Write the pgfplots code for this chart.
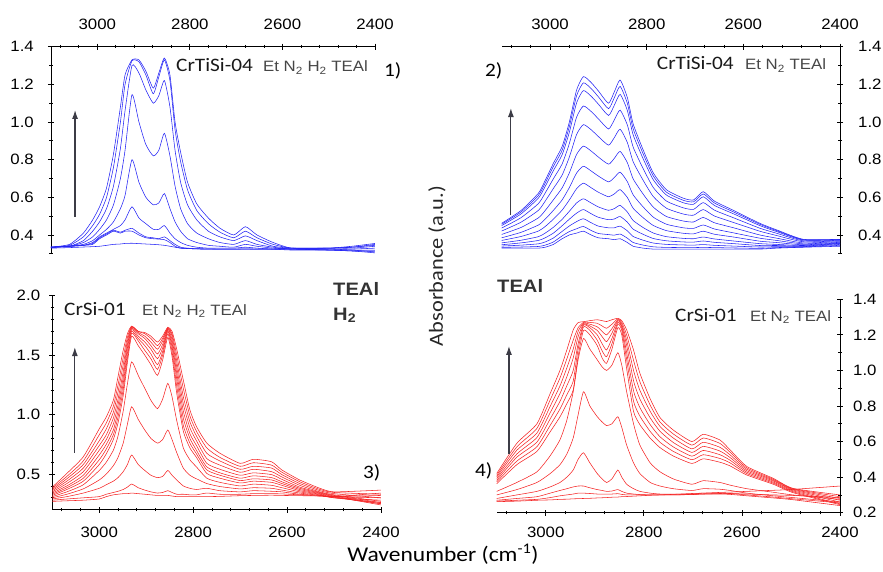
\documentclass[border=0pt]{standalone}
\usepackage{fontspec}
\setmainfont{Carlito}[FakeStretch=1.12]
\newfontfamily\arialf{Liberation Sans}[FakeStretch=1.12]
\usepackage{pgfplots}
\pgfplotsset{compat=1.18}
\usepackage{pgfplotstable}
\usetikzlibrary{arrows.meta}
\definecolor{bl}{RGB}{35,35,245}
\definecolor{rd}{RGB}{245,35,35}
\definecolor{arr}{RGB}{60,60,70}
\definecolor{txtg}{RGB}{70,70,70}

% Panel 1: CrTiSi-04 Et N2 H2 TEAl
\pgfplotstableread{
x C1 C2 C3 C4 C5 C6 C7 C8 C9
3100 .335 .335 .335 .335 .335 .335 .335 .335 .33
3060 .35 .345 .34 .34 .34 .34 .34 .34 .333
3030 .41 .39 .37 .36 .35 .345 .345 .345 .336
3010 .48 .45 .42 .39 .37 .36 .355 .35 .338
2995 .55 .51 .47 .43 .40 .39 .385 .38 .34
2980 .65 .60 .54 .48 .43 .41 .405 .40 .345
2965 .83 .76 .66 .56 .47 .43 .425 .42 .35
2950 1.08 1.00 .86 .70 .54 .45 .415 .41 .352
2940 1.25 1.20 1.06 .85 .61 .48 .425 .42 .355
2925 1.33 1.325 1.30 1.145 .80 .55 .435 .42 .356
2910 1.33 1.32 1.26 1.00 .68 .49 .41 .40 .354
2895 1.27 1.25 1.17 .88 .60 .46 .39 .385 .352
2879 1.18 1.15 1.10 .82 .56 .43 .385 .38 .35
2867 1.26 1.24 1.14 .85 .57 .43 .38 .378 .348
2855 1.34 1.33 1.22 .94 .62 .45 .39 .375 .345
2843 1.25 1.22 1.08 .82 .54 .41 .37 .36 .34
2832 1.00 .96 .85 .66 .47 .38 .35 .34 .335
2820 .84 .79 .68 .54 .42 .36 .335 .33 .33
2805 .68 .64 .56 .46 .38 .345 .33 .328 .328
2785 .565 .53 .48 .41 .36 .335 .327 .326 .326
2760 .49 .46 .42 .38 .345 .33 .326 .325 .325
2735 .436 .415 .39 .36 .34 .33 .325 .325 .325
2705 .40 .385 .37 .35 .335 .33 .325 .325 .325
2680 .444 .42 .395 .37 .35 .335 .326 .325 .325
2655 .40 .385 .37 .35 .34 .33 .325 .325 .325
2620 .36 .35 .34 .335 .33 .325 .325 .325 .325
2580 .33 .33 .33 .325 .325 .32 .325 .33 .325
2500 .33 .33 .33 .325 .32 .32 .325 .33 .32
2450 .34 .335 .33 .325 .32 .315 .32 .335 .315
2400 .355 .345 .34 .33 .32 .315 .31 .35 .305
}\tabA

% Panel 2: CrTiSi-04 Et N2 TEAl
\pgfplotstableread{
x a b c d e f g h i j k l m
3100 .462 .457 .450 .437 .421 .403 .385 .371 .358 .348 .341 .334 .33
3060 .53 .522 .512 .492 .468 .440 .414 .392 .372 .358 .346 .336 .33
3024 .622 .610 .596 .567 .531 .491 .453 .421 .391 .371 .353 .339 .33
3010 .69 .676 .658 .623 .580 .530 .484 .445 .410 .385 .363 .346 .335
2993 .781 .764 .742 .699 .647 .587 .531 .484 .441 .410 .384 .363 .35
2975 .87 .850 .826 .777 .718 .650 .586 .532 .483 .449 .419 .395 .38
2960 1.00 .976 .946 .886 .814 .730 .652 .586 .526 .484 .448 .418 .40
2945 1.17 1.140 1.102 1.026 .934 .828 .729 .646 .570 .516 .471 .433 .41
2931 1.241 1.208 1.167 1.085 .986 .872 .765 .675 .592 .535 .486 .445 .42
2915 1.21 1.178 1.137 1.056 .959 .846 .740 .651 .570 .513 .465 .424 .40
2900 1.165 1.134 1.095 1.017 .923 .814 .713 .627 .549 .494 .447 .408 .385
2879 1.10 1.071 1.035 .963 .877 .776 .682 .603 .531 .481 .438 .402 .38
2867 1.16 1.129 1.089 1.011 .917 .807 .705 .618 .540 .485 .438 .399 .375
2855 1.223 1.189 1.147 1.063 .962 .844 .734 .641 .557 .498 .447 .405 .38
2840 1.13 1.099 1.061 .984 .891 .784 .683 .599 .522 .468 .422 .383 .36
2828 .99 .964 .932 .867 .789 .698 .613 .542 .477 .431 .392 .360 .34
2807 .85 .829 .803 .751 .689 .616 .548 .491 .439 .403 .372 .346 .33
2786 .728 .712 .692 .651 .603 .547 .494 .450 .410 .381 .357 .337 .325
2759 .64 .627 .612 .580 .542 .498 .457 .423 .391 .369 .350 .334 .325
2724 .595 .584 .571 .544 .511 .474 .438 .409 .382 .363 .347 .333 .325
2703 .586 .576 .563 .536 .505 .469 .435 .406 .380 .362 .346 .333 .325
2683 .63 .618 .603 .572 .535 .493 .453 .420 .389 .368 .349 .334 .325
2660 .58 .570 .557 .532 .501 .465 .432 .404 .379 .361 .345 .333 .325
2620 .53 .522 .512 .491 .466 .438 .411 .389 .368 .354 .341 .331 .325
2566 .462 .457 .450 .436 .420 .400 .383 .367 .354 .344 .336 .329 .325
2531 .427 .423 .418 .409 .397 .383 .371 .360 .350 .344 .338 .333 .33
2476 .377 .375 .373 .369 .364 .358 .353 .348 .344 .341 .338 .336 .335
2400 .377 .376 .375 .372 .369 .365 .361 .358 .356 .354 .350 .345 .34
}\tabB

% Panel 3: CrSi-01 Et N2 H2 TEAl
\pgfplotstableread{
x a b c d e f g h i j k l m
3100 .39 .38 .37 .36 .35 .34 .33 .32 .31 .30 .29 .28 .27
3069 .505 .48 .46 .44 .42 .40 .385 .37 .35 .33 .31 .29 .275
3034 .645 .61 .58 .55 .52 .49 .465 .44 .41 .375 .34 .30 .28
3000 .88 .83 .78 .74 .70 .66 .62 .58 .53 .45 .38 .31 .29
2985 .98 .93 .88 .83 .79 .75 .71 .67 .60 .50 .41 .33 .31
2970 1.12 1.07 1.02 .97 .92 .87 .83 .79 .70 .57 .44 .345 .325
2960 1.32 1.25 1.19 1.13 1.08 1.03 .98 .93 .82 .64 .47 .355 .33
2949 1.54 1.48 1.42 1.36 1.31 1.26 1.21 1.16 1.03 .76 .52 .37 .335
2940 1.68 1.65 1.62 1.59 1.56 1.52 1.48 1.44 1.26 .92 .58 .39 .335
2931 1.745 1.74 1.735 1.725 1.715 1.70 1.685 1.66 1.444 1.066 .66 .416 .34
2917 1.70 1.70 1.69 1.68 1.66 1.64 1.62 1.58 1.33 .96 .58 .385 .335
2903 1.69 1.68 1.66 1.64 1.61 1.58 1.54 1.50 1.22 .87 .53 .365 .33
2890 1.66 1.64 1.61 1.58 1.55 1.51 1.47 1.42 1.12 .80 .49 .35 .325
2876 1.61 1.58 1.55 1.51 1.47 1.42 1.38 1.33 1.05 .76 .47 .34 .32
2865 1.66 1.64 1.62 1.59 1.56 1.53 1.50 1.46 1.13 .79 .48 .345 .32
2854 1.735 1.73 1.725 1.72 1.71 1.70 1.68 1.65 1.263 .87 .53 .36 .32
2845 1.70 1.68 1.66 1.63 1.60 1.57 1.53 1.49 1.15 .79 .49 .345 .315
2835 1.55 1.50 1.45 1.40 1.35 1.30 1.24 1.18 .95 .68 .45 .33 .31
2821 1.29 1.22 1.15 1.09 1.03 .97 .91 .86 .72 .55 .40 .33 .31
2807 1.04 .99 .94 .89 .84 .80 .76 .72 .62 .49 .38 .325 .31
2793 .90 .86 .82 .78 .74 .70 .67 .64 .56 .46 .37 .325 .31
2771 .76 .72 .675 .63 .59 .56 .535 .505 .465 .42 .38 .34 .31
2743 .675 .64 .61 .575 .54 .51 .49 .465 .43 .395 .36 .33 .312
2700 .59 .565 .54 .515 .49 .465 .445 .425 .40 .375 .35 .33 .318
2672 .624 .595 .565 .54 .51 .485 .46 .44 .415 .385 .36 .335 .32
2633 .603 .575 .55 .52 .495 .47 .45 .43 .405 .38 .355 .335 .322
2611 .534 .515 .495 .475 .455 .435 .42 .405 .385 .365 .35 .333 .32
2573 .45 .435 .42 .405 .39 .38 .37 .36 .35 .34 .33 .325 .318
2530 .38 .37 .36 .35 .345 .34 .335 .33 .325 .32 .32 .315 .315
2500 .35 .345 .335 .325 .32 .315 .31 .305 .30 .30 .31 .31 .31
2400 .365 .33 .30 .27 .26 .25 .24 .25 .26 .28 .30 .32 .34
}\tabC

% Panel 4: CrSi-01 Et N2 TEAl
\pgfplotstableread{
x a b c d e f g h i j k l m
3100 .42 .41 .401 .392 .382 .373 .363 .32 .30 .28 .27 .265 .262
3059 .59 .57 .551 .53 .512 .49 .47 .37 .33 .30 .28 .27 .265
3018 .70 .674 .648 .623 .597 .571 .545 .43 .37 .32 .29 .275 .27
2991 .87 .834 .798 .762 .727 .691 .655 .52 .42 .345 .31 .285 .272
2971 1.00 .957 .913 .87 .826 .783 .739 .61 .47 .37 .325 .295 .275
2957 1.115 1.065 1.014 .964 .914 .863 .813 .72 .53 .40 .335 .30 .276
2944 1.228 1.17 1.12 1.07 1.00 .94 .89 .88 .62 .44 .345 .305 .278
2934 1.269 1.24 1.22 1.19 1.15 1.12 1.08 1.06 .75 .50 .35 .31 .279
2923 1.274 1.27 1.265 1.26 1.255 1.245 1.225 1.18 .88 .537 .35 .31 .28
2910 1.28 1.27 1.26 1.25 1.24 1.225 1.20 1.12 .80 .48 .34 .308 .281
2895 1.285 1.265 1.245 1.225 1.20 1.17 1.14 1.06 .74 .42 .33 .305 .283
2885 1.28 1.25 1.22 1.19 1.15 1.11 1.07 1.02 .71 .39 .325 .305 .284
2876 1.275 1.237 1.20 1.162 1.115 1.077 1.04 1.00 .69 .37 .32 .305 .285
2865 1.285 1.26 1.235 1.21 1.18 1.15 1.12 1.03 .70 .39 .322 .305 .287
2853 1.293 1.29 1.285 1.28 1.27 1.26 1.24 1.10 .74 .44 .33 .307 .288
2845 1.28 1.27 1.26 1.25 1.24 1.225 1.20 1.03 .68 .40 .32 .303 .29
2835 1.228 1.20 1.17 1.14 1.10 1.06 1.01 .88 .58 .36 .31 .30 .291
2821 1.115 1.057 1.0 .942 .885 .827 .77 .70 .48 .335 .305 .30 .293
2808 .984 .936 .888 .839 .791 .743 .695 .58 .42 .32 .302 .30 .295
2787 .84 .805 .77 .733 .695 .657 .619 .48 .37 .31 .30 .30 .298
2767 .735 .71 .685 .658 .627 .596 .566 .43 .35 .305 .30 .30 .30
2740 .665 .643 .62 .595 .57 .545 .519 .39 .335 .305 .30 .30 .303
2702 .60 .58 .559 .539 .518 .498 .477 .36 .325 .305 .302 .303 .308
2679 .641 .62 .596 .573 .55 .526 .503 .38 .335 .31 .305 .305 .31
2645 .609 .59 .568 .547 .526 .505 .484 .37 .332 .31 .305 .308 .314
2624 .553 .54 .525 .51 .495 .48 .463 .355 .325 .308 .303 .308 .316
2590 .46 .452 .444 .436 .428 .42 .412 .335 .31 .30 .295 .305 .32
2536 .393 .388 .383 .378 .372 .366 .36 .315 .295 .288 .283 .30 .326
2496 .337 .335 .332 .328 .323 .318 .313 .30 .285 .278 .273 .297 .331
2400 .30 .29 .28 .27 .26 .25 .245 .275 .26 .255 .24 .285 .35
}\tabD

\pgfplotsset{
  panel/.style={
    scale only axis, anchor=south west,
    x dir=reverse, xmin=2400, xmax=3100,
    xtick={2400,2600,2800,3000},
    minor xtick={2440,2480,2520,2560,2640,2680,2720,2760,2840,2880,2920,2960,3040,3080},
    tick align=outside, major tick length=6pt, minor tick length=3.5pt,
    every tick/.style={black, line width=0.8pt},
    tick label style={font=\arialf\fontsize{15}{15}\selectfont, inner sep=1pt},
    /pgf/number format/assume math mode=true,
    yticklabel style={/pgf/number format/fixed, /pgf/number format/precision=1, /pgf/number format/fixed zerofill},
    xticklabel style={/pgf/number format/fixed, /pgf/number format/precision=0, /pgf/number format/1000 sep={}},
  },
  noarrows/.style={axis line style={line width=0.9pt,-}, x axis line style={-}, y axis line style={-}},
  bcurve/.style={bl, line width=0.55pt, smooth, tension=0.35, no markers},
  rcurve/.style={rd, line width=0.55pt, smooth, tension=0.35, no markers},
}

\begin{document}
\begin{tikzpicture}[x=1pt,y=1pt]
\useasboundingbox (0,0) rectangle (883,571);

% Panel 1
\begin{axis}[panel, at={(51pt,317.2pt)}, width=324pt, height=207.1pt,
  ymin=0.3, ymax=1.4, ytick={0.4,0.6,...,1.4}, minor ytick={0.3,0.5,0.7,0.9,1.1,1.3},
  axis x line=top, axis y line=left, noarrows,
  xticklabel style={yshift=13pt}, yticklabel style={xshift=-13pt}]
\pgfplotsinvokeforeach{1,...,9}{\addplot[bcurve] table[x index=0, y index=#1]{\tabA};}
\draw[arr, line width=1.2pt, -{Latex[length=9pt,width=6pt]}] (axis cs:3048,0.496) -- (axis cs:3048,1.064);
\end{axis}

% Panel 2
\begin{axis}[panel, at={(501.7pt,317.2pt)}, width=338.3pt, height=207.1pt,
  ymin=0.3, ymax=1.4, ytick={0.4,0.6,...,1.4}, minor ytick={0.3,0.5,0.7,0.9,1.1,1.3},
  axis x line=top, axis y line=right, noarrows,
  xticklabel style={yshift=13pt}, yticklabel style={xshift=14pt}]
\pgfplotsinvokeforeach{1,...,13}{\addplot[bcurve] table[x index=0, y index=#1]{\tabB};}
\draw[arr, line width=1.2pt, -{Latex[length=9pt,width=6pt]}] (axis cs:3081,0.506) -- (axis cs:3081,1.074);
\end{axis}

% Panel 3
\begin{axis}[panel, at={(52.3pt,61.3pt)}, width=328.7pt, height=214pt,
  ymin=0.2, ymax=2.0, ytick={0.5,1.0,1.5,2.0},
  minor ytick={0.3,0.4,0.6,0.7,0.8,0.9,1.1,1.2,1.3,1.4,1.6,1.7,1.8,1.9},
  axis x line=bottom, axis y line=left, noarrows,
  xticklabel style={yshift=-13.5pt}, yticklabel style={xshift=-8pt}]
\pgfplotsinvokeforeach{1,...,13}{\addplot[rcurve] table[x index=0, y index=#1]{\tabC};}
\draw[arr, line width=1.2pt, -{Latex[length=9pt,width=6pt]}] (axis cs:3052,0.677) -- (axis cs:3052,1.568);
\end{axis}

% Panel 4
\begin{axis}[panel, at={(496.7pt,58.3pt)}, width=343.3pt, height=213.4pt,
  ymin=0.2, ymax=1.4, ytick={0.2,0.4,...,1.4}, minor ytick={0.3,0.5,0.7,0.9,1.1,1.3},
  axis x line=bottom, axis y line=right, noarrows,
  xticklabel style={yshift=-10pt}, yticklabel style={xshift=9pt}]
\pgfplotsinvokeforeach{1,...,13}{\addplot[rcurve] table[x index=0, y index=#1]{\tabD};}
\draw[arr, line width=1.2pt, -{Latex[length=9pt,width=6pt]}] (axis cs:3075,0.53) -- (axis cs:3075,1.138);
\end{axis}

% Texts
\tikzset{lab/.style={anchor=base west, inner sep=0pt}}
\node[lab, font=\fontsize{19}{19}\selectfont, text=black!90] at (176,499) {CrTiSi-04};
\node[lab, font=\arialf\fontsize{15}{15}\selectfont, text=txtg] at (263,499) {Et N\textsubscript{2} H\textsubscript{2} TEAl};
\node[lab, font=\fontsize{19}{19}\selectfont] at (384,494) {1)};

\node[lab, font=\fontsize{19}{19}\selectfont] at (485,494) {2)};
\node[lab, font=\fontsize{19}{19}\selectfont, text=black!90] at (656.7,501) {CrTiSi-04};
\node[lab, font=\arialf\fontsize{15}{15}\selectfont, text=txtg] at (745,501) {Et N\textsubscript{2} TEAl};

\node[lab, font=\fontsize{19}{19}\selectfont, text=black!90] at (64,256) {CrSi-01};
\node[lab, font=\arialf\fontsize{15}{15}\selectfont, text=txtg] at (142,256) {Et N\textsubscript{2} H\textsubscript{2} TEAl};
\node[lab, font=\fontsize{19}{19}\selectfont] at (363,93) {3)};
\node[lab, font=\arialf\bfseries\fontsize{18}{18}\selectfont, text=black!80] at (333,276) {TEAl};
\node[lab, font=\arialf\bfseries\fontsize{18}{18}\selectfont, text=black!80] at (333,251) {H\textsubscript{2}};

\node[lab, font=\arialf\bfseries\fontsize{18}{18}\selectfont, text=black!80] at (497,279) {TEAl};
\node[lab, font=\fontsize{19}{19}\selectfont, text=black!90] at (675,250) {CrSi-01};
\node[lab, font=\arialf\fontsize{15}{15}\selectfont, text=txtg] at (750,250) {Et N\textsubscript{2} TEAl};
\node[lab, font=\fontsize{19}{19}\selectfont] at (475,95) {4)};

\node[rotate=90, inner sep=0pt, font=\fontsize{20}{20}\selectfont, text=black!85] at (437,305) {Absorbance (a.u.)};
\node[anchor=base, inner sep=0pt, font=\fontsize{21}{21}\selectfont] at (443,10) {Wavenumber (cm\textsuperscript{-1})};
\end{tikzpicture}
\end{document}
